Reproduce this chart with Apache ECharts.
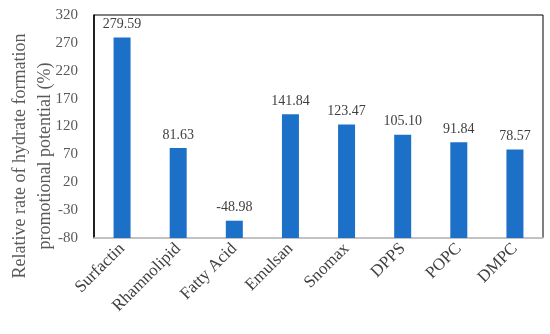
<!DOCTYPE html>
<html><head><meta charset="utf-8">
<script src="https://cdn.jsdelivr.net/npm/echarts@6/dist/echarts.min.js"></script>
<style>html,body{margin:0;padding:0;background:#fff}#c{width:550px;height:334px}</style>
</head><body><div id="c"></div>
<script>
const categories = ['Surfactin','Rhamnolipid','Fatty Acid','Emulsan','Snomax','DPPS','POPC','DMPC'];
const values = [279.59, 81.63, -48.98, 141.84, 123.47, 105.10, 91.84, 78.57];
const yTicks = {min: -80, max: 320, interval: 50};
const yTitle = 'Relative rate of hydrate formation\npromotional potential (%)';
const font = 'Liberation Serif';
const chart = echarts.init(document.getElementById('c'));
chart.setOption({
  animation: false,
  grid: {left: 94, right: 7, top: 15, bottom: 96, show: true, borderColor: '#000', borderWidth: 1,
         containLabel: false, outerBoundsMode: 'none'},
  graphic: [{
    type: 'text', x: 33, y: 156, rotation: Math.PI / 2,
    style: {text: yTitle, fill: '#595959', font: '18px "Liberation Serif"', lineHeight: 25,
            align: 'center', verticalAlign: 'middle'}
  }],
  xAxis: {
    type: 'category', data: categories,
    axisLine: {onZero: false, lineStyle: {color: '#d9d9d9', width: 1.5}},
    axisTick: {show: false},
    axisLabel: {rotate: 45, color: '#404040', fontFamily: font, fontSize: 17, margin: 8, interval: 0}
  },
  yAxis: {
    type: 'value', min: yTicks.min, max: yTicks.max, interval: yTicks.interval, startValue: yTicks.min,
    splitLine: {show: false},
    axisLine: {show: true, lineStyle: {color: '#000', width: 1.5}},
    axisTick: {show: false},
    axisLabel: {color: '#595959', fontFamily: font, fontSize: 15, margin: 16}
  },
  series: [{
    type: 'bar', data: values, barWidth: 17,
    itemStyle: {color: '#1c70c8'},
    label: {show: true, position: 'top', distance: 6, color: '#404040', fontFamily: font, fontSize: 14,
      formatter: p => p.value.toFixed(2)}
  }]
});
</script></body></html>
